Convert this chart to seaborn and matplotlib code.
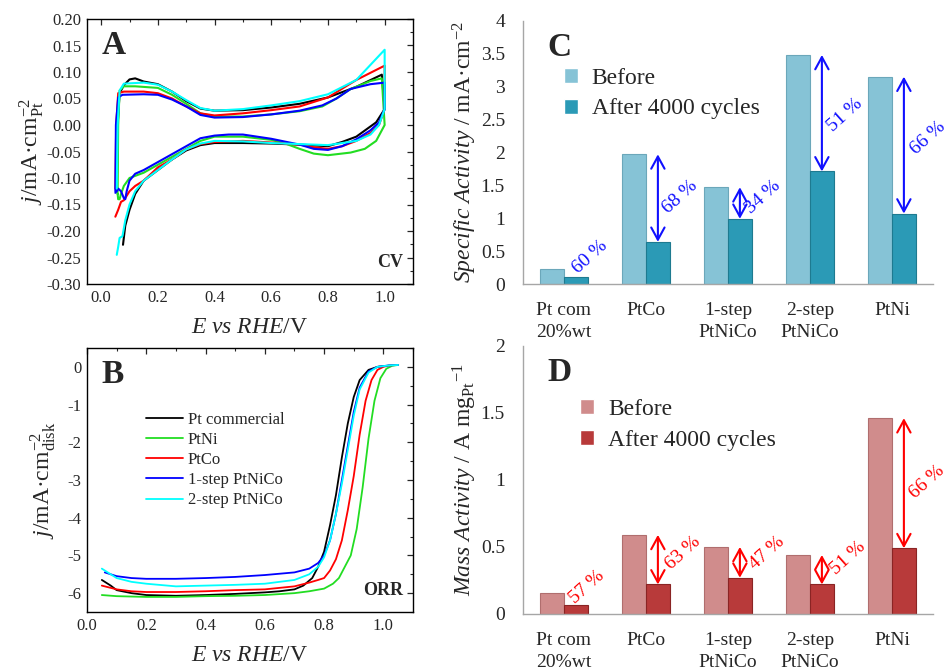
import numpy as np
import pandas as pd
import seaborn as sns
import matplotlib.pyplot as plt

# Panel A : cyclic voltammograms (E / V, j / mA cm-2 Pt)
cv_pt_E = [0.055, 0.058, 0.065, 0.08, 0.10, 0.12, 0.15, 0.20, 0.25, 0.30, 0.35, 0.40, 0.50, 0.60, 0.70, 0.80, 0.90, 0.99, 1.0,
           0.97, 0.90, 0.85, 0.80, 0.70, 0.60, 0.50, 0.40, 0.35, 0.30, 0.25, 0.20, 0.15, 0.12, 0.10, 0.085, 0.077]
cv_pt_j = [-0.12, 0.0, 0.06, 0.075, 0.086, 0.088, 0.082, 0.077, 0.063, 0.045, 0.031, 0.027, 0.028, 0.033, 0.040, 0.052, 0.072, 0.095, 0.03,
           0.005, -0.022, -0.032, -0.040, -0.037, -0.035, -0.034, -0.034, -0.038, -0.048, -0.065, -0.085, -0.105, -0.13, -0.16, -0.19, -0.226]

cv_ni_E = [0.058, 0.06, 0.065, 0.08, 0.12, 0.20, 0.25, 0.30, 0.35, 0.40, 0.50, 0.60, 0.70, 0.78, 0.83, 0.88, 0.95, 0.99, 1.0,
           0.99, 0.97, 0.93, 0.88, 0.80, 0.75, 0.70, 0.65, 0.60, 0.50, 0.40, 0.35, 0.30, 0.25, 0.20, 0.15, 0.10, 0.08, 0.07, 0.065, 0.06, 0.058]
cv_ni_j = [-0.13, 0.0, 0.065, 0.073, 0.073, 0.070, 0.057, 0.040, 0.022, 0.016, 0.016, 0.020, 0.026, 0.035, 0.050, 0.068, 0.083, 0.088, 0.0,
           -0.01, -0.03, -0.045, -0.052, -0.057, -0.054, -0.045, -0.035, -0.028, -0.022, -0.022, -0.030, -0.045, -0.060, -0.075, -0.090, -0.10, -0.115, -0.13, -0.14, -0.14, -0.13]

cv_co_E = [0.05, 0.053, 0.06, 0.08, 0.15, 0.20, 0.25, 0.30, 0.35, 0.40, 0.50, 0.60, 0.70, 0.80, 0.90, 1.0, 1.0,
           0.98, 0.95, 0.90, 0.85, 0.80, 0.75, 0.70, 0.60, 0.50, 0.40, 0.35, 0.30, 0.25, 0.20, 0.15, 0.12, 0.10, 0.08, 0.07, 0.06, 0.05]
cv_co_j = [-0.12, 0.0, 0.06, 0.063, 0.063, 0.060, 0.050, 0.035, 0.022, 0.018, 0.022, 0.028, 0.035, 0.052, 0.085, 0.112, 0.03,
           0.0, -0.015, -0.03, -0.04, -0.045, -0.042, -0.037, -0.033, -0.030, -0.032, -0.036, -0.046, -0.065, -0.080, -0.105, -0.115, -0.125, -0.142, -0.145, -0.16, -0.173]

cv_1s_E = [0.05, 0.052, 0.06, 0.075, 0.15, 0.20, 0.25, 0.30, 0.35, 0.40, 0.50, 0.60, 0.70, 0.78, 0.83, 0.88, 0.95, 1.0, 1.0,
           0.98, 0.95, 0.90, 0.85, 0.80, 0.75, 0.70, 0.60, 0.50, 0.45, 0.40, 0.35, 0.30, 0.25, 0.20, 0.15, 0.12, 0.10, 0.09, 0.085, 0.08, 0.07, 0.06, 0.055, 0.05]
cv_1s_j = [-0.125, 0.0, 0.052, 0.057, 0.058, 0.057, 0.048, 0.035, 0.019, 0.014, 0.015, 0.020, 0.027, 0.037, 0.050, 0.068, 0.077, 0.080, 0.03,
           0.005, -0.01, -0.027, -0.04, -0.047, -0.045, -0.037, -0.026, -0.018, -0.018, -0.020, -0.025, -0.040, -0.055, -0.070, -0.085, -0.092, -0.105, -0.125, -0.14, -0.138, -0.125, -0.12, -0.125, -0.128]

cv_2s_E = [0.055, 0.058, 0.065, 0.08, 0.15, 0.20, 0.25, 0.30, 0.35, 0.40, 0.50, 0.60, 0.70, 0.80, 0.90, 1.0, 1.0,
           0.98, 0.95, 0.90, 0.80, 0.70, 0.60, 0.50, 0.40, 0.35, 0.30, 0.25, 0.20, 0.15, 0.12, 0.10, 0.085, 0.075, 0.065, 0.06, 0.055]
cv_2s_j = [-0.12, 0.0, 0.065, 0.078, 0.080, 0.076, 0.063, 0.047, 0.032, 0.027, 0.030, 0.037, 0.045, 0.058, 0.085, 0.142, 0.03,
           0.0, -0.018, -0.03, -0.038, -0.036, -0.034, -0.031, -0.030, -0.035, -0.046, -0.065, -0.085, -0.105, -0.125, -0.15, -0.18, -0.21, -0.213, -0.23, -0.245]

# Panel B : ORR polarisation curves (E / V, j / mA cm-2 disk)
orr_pt_E = [0.05, 0.08, 0.10, 0.15, 0.20, 0.30, 0.40, 0.50, 0.60, 0.65, 0.70, 0.73, 0.76, 0.78, 0.80, 0.82, 0.84, 0.86, 0.88, 0.90, 0.92, 0.95, 0.98, 1.0]
orr_pt_j = [-5.65, -5.8, -5.92, -6.0, -6.05, -6.07, -6.05, -6.02, -5.98, -5.95, -5.9, -5.8, -5.6, -5.3, -4.9, -4.2, -3.4, -2.4, -1.5, -0.8, -0.35, -0.08, 0.0, 0.02]

orr_ni_E = [0.05, 0.10, 0.20, 0.30, 0.40, 0.50, 0.60, 0.70, 0.75, 0.80, 0.83, 0.85, 0.87, 0.89, 0.91, 0.93, 0.95, 0.97, 0.99, 1.01, 1.03, 1.05]
orr_ni_j = [-6.05, -6.08, -6.1, -6.1, -6.08, -6.07, -6.05, -6.0, -5.95, -5.88, -5.75, -5.6, -5.3, -5.0, -4.3, -3.2, -1.9, -0.9, -0.3, -0.05, 0.03, 0.05]

orr_co_E = [0.05, 0.10, 0.15, 0.20, 0.30, 0.40, 0.50, 0.60, 0.70, 0.75, 0.78, 0.80, 0.82, 0.84, 0.86, 0.88, 0.90, 0.92, 0.94, 0.96, 0.98, 1.0, 1.02, 1.05]
orr_co_j = [-5.8, -5.9, -5.95, -5.97, -5.97, -5.95, -5.92, -5.9, -5.82, -5.72, -5.65, -5.6, -5.4, -5.1, -4.6, -3.8, -2.9, -1.8, -0.9, -0.35, -0.08, 0.0, 0.04, 0.05]

orr_1s_E = [0.06, 0.10, 0.15, 0.20, 0.30, 0.40, 0.50, 0.60, 0.70, 0.75, 0.78, 0.80, 0.82, 0.84, 0.86, 0.88, 0.90, 0.92, 0.95, 0.98, 1.02, 1.05]
orr_1s_j = [-5.45, -5.55, -5.6, -5.62, -5.62, -5.6, -5.57, -5.52, -5.45, -5.35, -5.2, -5.0, -4.6, -3.9, -3.0, -2.1, -1.2, -0.55, -0.12, 0.0, 0.04, 0.05]

orr_2s_E = [0.05, 0.08, 0.10, 0.15, 0.20, 0.30, 0.40, 0.50, 0.60, 0.70, 0.75, 0.78, 0.80, 0.82, 0.84, 0.86, 0.88, 0.90, 0.92, 0.95, 0.98, 1.02, 1.05]
orr_2s_j = [-5.35, -5.5, -5.6, -5.7, -5.75, -5.82, -5.8, -5.78, -5.75, -5.65, -5.5, -5.3, -5.05, -4.6, -3.9, -3.1, -2.2, -1.3, -0.6, -0.15, 0.0, 0.04, 0.05]

samples = ["Pt commercial", "PtNi", "PtCo", "1-step PtNiCo", "2-step PtNiCo"]
line_colors = ["black", "#22DD22", "red", "blue", "cyan"]

# Panels C and D : activities before / after 4000 cycles
categories = ["Pt com\n20%wt", "PtCo", "1-step\nPtNiCo", "2-step\nPtNiCo", "PtNi"]
sa_before = [0.23, 1.97, 1.47, 3.48, 3.15]
sa_after = [0.10, 0.64, 0.99, 1.71, 1.07]
sa_loss = ["60 %", "68 %", "34 %", "51 %", "66 %"]
ma_before = [0.16, 0.59, 0.50, 0.44, 1.46]
ma_after = [0.07, 0.22, 0.27, 0.22, 0.49]
ma_loss = ["57 %", "63 %", "47 %", "51 %", "66 %"]

sns.set_style("white")
plt.rcParams['font.family'] = ['Liberation Serif', 'DejaVu Serif']
plt.rcParams['mathtext.fontset'] = 'custom'
plt.rcParams['mathtext.rm'] = 'Liberation Serif'
plt.rcParams['mathtext.it'] = 'Liberation Serif:italic'
plt.rcParams['mathtext.bf'] = 'Liberation Serif:bold'

W, H = 945, 672
fig = plt.figure(figsize=(9.45, 6.72), dpi=100)
axA = fig.add_axes([87/W, 1-284/H, 326/W, 265/H])
axB = fig.add_axes([87/W, 1-612/H, 326/W, 264/H])
axC = fig.add_axes([523/W, 1-284/H, 410/W, 263.3/H])
axD = fig.add_axes([523/W, 1-614/H, 410/W, 268.3/H])


def long_frame(parts):
    frames = []
    for name, E, j in parts:
        frames.append(pd.DataFrame({"E": E, "j": j, "sample": name}))
    return pd.concat(frames, ignore_index=True)


cv_df = long_frame([("Pt commercial", cv_pt_E, cv_pt_j), ("PtNi", cv_ni_E, cv_ni_j),
                    ("PtCo", cv_co_E, cv_co_j), ("1-step PtNiCo", cv_1s_E, cv_1s_j),
                    ("2-step PtNiCo", cv_2s_E, cv_2s_j)])
orr_df = long_frame([("Pt commercial", orr_pt_E, orr_pt_j), ("PtNi", orr_ni_E, orr_ni_j),
                     ("PtCo", orr_co_E, orr_co_j), ("1-step PtNiCo", orr_1s_E, orr_1s_j),
                     ("2-step PtNiCo", orr_2s_E, orr_2s_j)])
pal = dict(zip(samples, line_colors))

# ---- A : CV ----
sns.lineplot(data=cv_df, x="E", y="j", hue="sample", hue_order=samples, palette=pal,
             sort=False, estimator=None, lw=1.5, legend=False, ax=axA)
axA.set_xlim(-0.05, 1.1)
axA.set_ylim(-0.3, 0.2)
xt = np.round(np.arange(0, 1.01, 0.2), 2)
axA.set_xticks(xt)
axA.set_xticks(np.arange(0.1, 1.01, 0.2), minor=True)
yt = np.round(np.arange(-0.3, 0.201, 0.05), 2)
axA.set_yticks(yt)
axA.set_yticks(np.arange(-0.275, 0.2, 0.05), minor=True)
axA.set_yticklabels([f"{v:.2f}".replace("-0.00", "0.00") for v in yt])
axA.set_xticklabels([f"{v:.1f}" for v in xt])
axA.set_xlabel(r"$E\ vs\ RHE$/V", fontsize=17, labelpad=8)
axA.set_ylabel(r"$j$/mA·cm$^{-2}_{\mathrm{Pt}}$", fontsize=17)
axA.yaxis.set_label_coords(-0.125, 0.5)
axA.text(0.045, 0.9, "A", transform=axA.transAxes, fontsize=24, fontweight="bold", va="center")
axA.text(0.97, 0.08, "CV", transform=axA.transAxes, fontsize=13, fontweight="bold", ha="right", va="center")

# ---- B : ORR ----
sns.lineplot(data=orr_df, x="E", y="j", hue="sample", hue_order=samples, palette=pal,
             sort=False, estimator=None, lw=1.3, ax=axB)
axB.set_xlim(0, 1.1)
axB.set_ylim(-6.5, 0.5)
axB.set_xticks(xt)
axB.set_xticks(np.arange(0.1, 1.11, 0.2), minor=True)
axB.set_xticklabels([f"{v:.1f}" for v in xt])
axB.set_yticks(np.arange(-6, 0.1, 1))
axB.set_yticks(np.arange(-6.5, 0.6, 0.5), minor=True)
axB.set_yticklabels([f"{v:d}" for v in range(-6, 1)])
axB.set_xlabel(r"$E\ vs\ RHE$/V", fontsize=17, labelpad=8)
axB.set_ylabel(r"$j$/mA·cm$^{-2}_{\mathrm{disk}}$", fontsize=17)
axB.yaxis.set_label_coords(-0.09, 0.5)
axB.legend(frameon=False, fontsize=12, loc="upper left", bbox_to_anchor=(0.155, 0.79),
           borderpad=0, handlelength=2.2, handletextpad=0.3, labelspacing=0.25)
axB.text(0.045, 0.9, "B", transform=axB.transAxes, fontsize=24, fontweight="bold", va="center")
axB.text(0.97, 0.08, "ORR", transform=axB.transAxes, fontsize=13, fontweight="bold", ha="right", va="center")

for ax in (axA, axB):
    ax.tick_params(which="both", direction="in", top=True, right=True, labelsize=12, pad=4)
    ax.tick_params(which="major", length=4, width=0.9)
    ax.tick_params(which="minor", length=2.5, width=0.8)
    for s in ax.spines.values():
        s.set_linewidth(1.0)
        s.set_color("black")

# ---- C and D : bars ----
bar_w = 0.58


def bar_panel(ax, before, after, loss, cols, edges, txt_col, ymax, ystep, text_pos, letter, legend_anchor):
    df = pd.DataFrame({"cat": categories * 2,
                       "val": before + after,
                       "when": ["Before"] * 5 + ["After 4000 cycles"] * 5})
    sns.barplot(data=df, x="cat", y="val", hue="when", palette=cols, saturation=1,
                width=bar_w, ax=ax, errorbar=None)
    for i, p in enumerate(ax.patches[:10]):
        p.set_edgecolor(edges[0] if i < 5 else edges[1])
        p.set_linewidth(0.8)
    for i in range(5):
        x = i + bar_w / 4
        if i > 0:
            ax.annotate("", xy=(x, after[i]), xytext=(x, before[i]),
                        arrowprops=dict(arrowstyle="<->,head_length=0.55,head_width=0.3",
                                        color=txt_col, lw=1.5, mutation_scale=16,
                                        shrinkA=0, shrinkB=0))
        ax.text(text_pos[i][0] + i, text_pos[i][1], loss[i], color=txt_col, fontsize=14,
                rotation=42, ha="center", va="center", rotation_mode="anchor")
    ax.set_xlim(-0.5, 4.5)
    ax.set_ylim(0, ymax)
    yt = np.arange(0, ymax + 0.01, ystep)
    ax.set_yticks(yt)
    ax.set_yticklabels([f"{v:g}" for v in yt])
    ax.set_xticks(np.arange(-0.5, 4.6, 1))
    ax.set_xticklabels([])
    ax.set_xticks(range(5), minor=True)
    ax.set_xticklabels(categories, minor=True, fontsize=14, linespacing=1.4)
    ax.tick_params(axis="x", which="minor", length=0, pad=13)
    ax.tick_params(axis="x", which="major", length=5, color="#A6A6A6", direction="out")
    ax.tick_params(axis="y", length=5, color="#A6A6A6", direction="out", labelsize=14, pad=8)
    ax.set_xlabel("")
    for side in ("top", "right"):
        ax.spines[side].set_visible(False)
    for side in ("left", "bottom"):
        ax.spines[side].set_color("#A6A6A6")
        ax.spines[side].set_linewidth(1.0)
    h, l = ax.get_legend_handles_labels()
    ax.legend(h, l, frameon=False, fontsize=17, loc="upper left", bbox_to_anchor=legend_anchor,
              handlelength=0.6, handleheight=0.6, handletextpad=0.6, labelspacing=0.4, borderpad=0)
    ax.text(0.06, 0.9, letter, transform=ax.transAxes, fontsize=24, fontweight="bold", va="center")


bar_panel(axC, sa_before, sa_after, sa_loss, ["#86C3D6", "#2B9AB6"], ["#6BA7BA", "#1E7A90"], "#1010FF",
          4, 0.5, [(0.32, 0.41), (0.41, 1.32), (0.43, 1.32), (0.43, 2.57), (0.44, 2.22)], "C", (0.07, 0.865))
axC.set_ylabel(r"$\mathit{Specific\ Activity}$ / mA·cm$^{-2}$", fontsize=17)
axC.yaxis.set_label_coords(-0.108, 0.5)

bar_panel(axD, ma_before, ma_after, ma_loss, ["#D08C8C", "#B83A3A"], ["#B06E6E", "#8A2424"], "red",
          2, 0.5, [(0.28, 0.20), (0.45, 0.455), (0.47, 0.455), (0.46, 0.42), (0.43, 0.985)], "D", (0.11, 0.845))
axD.set_ylabel(r"$\mathit{Mass\ Activity}$ / A mg$_{\mathrm{Pt}}$$^{-1}$", fontsize=17)
axD.yaxis.set_label_coords(-0.108, 0.5)

fig.savefig("out.png", dpi=100)
